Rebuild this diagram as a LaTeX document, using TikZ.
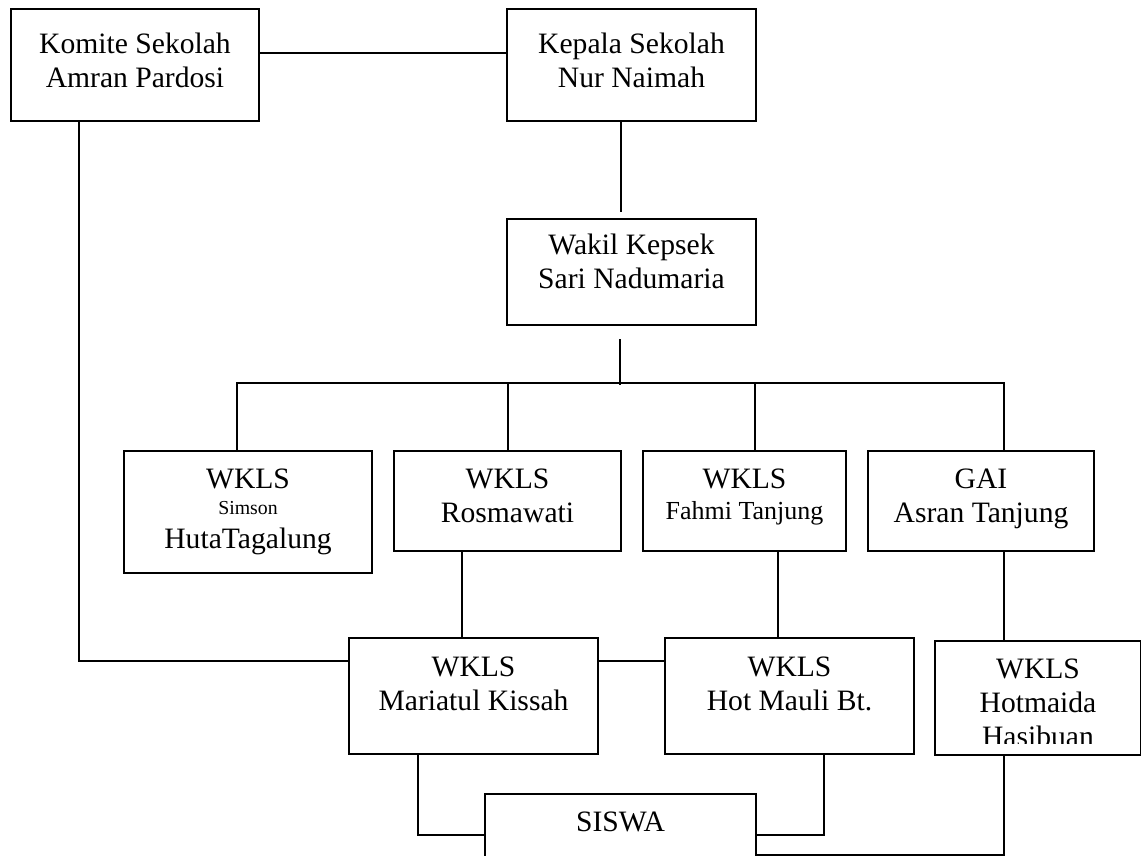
\documentclass[tikz,border=0pt]{standalone}
\usepackage{fontspec}
\setmainfont{Liberation Serif}

\begin{document}
\begin{tikzpicture}[x=0.5pt, y=-0.5pt, line width=1pt,
    box/.style={draw, anchor=north west, align=center, inner xsep=2pt, inner ysep=0pt,
                font=\fontsize{14.8pt}{17pt}\selectfont},
    row/.style={text height=35.5pt, text depth=14.5pt}]
\clip (0,0) rectangle (1141,856);
                    \node [box, minimum width=124pt, text height=39.5pt, text depth=16.5pt] (komite) at (10,8) {Komite Sekolah\\Amran Pardosi};
                    \node [box, minimum width=124.5pt, text height=39.5pt, text depth=16.5pt] (kepala) at (506,8) {Kepala Sekolah\\Nur Naimah};
                    \node [box, minimum width=124.5pt, text height=34.5pt, text depth=18.5pt] (wakil) at (506,218) {Wakil Kepsek\\Sari Nadumaria};
                    \node [box, minimum width=124pt, text height=48.5pt, text depth=12.5pt] (simson) at (123,450) {WKLS\\[-4pt]{\fontsize{9.9pt}{12pt}\selectfont Simson}\\HutaTagalung};
                    \node [box, row, minimum width=113.5pt] (rosma) at (393,450) {WKLS\\Rosmawati};
                    \node [box, minimum width=101.5pt, text height=34pt, text depth=16pt] (fahmi) at (642,450) {WKLS\\[-1.5pt]{\fontsize{13pt}{15pt}\selectfont Fahmi\ Tanjung}};
                    \node [box, row, minimum width=113pt] (gai) at (867,450) {GAI\\Asran Tanjung};
                    \node [box, minimum width=124.5pt, text height=36pt, text depth=22pt] (mariatul) at (348,637) {WKLS\\Mariatul Kissah};
                    \node [box, minimum width=124.5pt, text height=36pt, text depth=22pt] (hotmauli) at (664,637) {WKLS\\Hot Mauli Bt.};
                    \begin{scope}
                        \clip (935,641) rectangle (1139,743);
                        \node [box, draw=none, minimum width=102pt, text height=52pt, text depth=4pt] (hotmaida) at (935,641) {WKLS\\Hotmaida\\Hasibuan};
                    \end{scope}
                    \draw (hotmaida.north west) rectangle (hotmaida.south east);
                    \node [box, minimum width=135.5pt, text height=18.5pt, text depth=35pt] (siswa) at (484,793) {SISWA};
                    % garis
                    \draw ([yshift=6pt]komite.east) -- ([yshift=6pt]kepala.west);
                    \draw ([xshift=-5.25pt]kepala.south) -- ([xshift=-5.25pt,yshift=3pt]wakil.north);
                    \draw ([xshift=-5.75pt,yshift=-6.5pt]wakil.south) -- ++(0,46);
                    \draw ([xshift=-5.5pt]simson.north) -- ++(0,-67) -| ([xshift=11.5pt]gai.north);
                    \draw (rosma.north) -- ++(0,-67);
                    \draw ([xshift=5.25pt]fahmi.north) -- ++(0,-67);
                    \draw ([xshift=-22.75pt]rosma.south) -- ([xshift=-5.75pt]mariatul.north);
                    \draw ([xshift=16.75pt]fahmi.south) -- ([xshift=-5.75pt]hotmauli.north);
                    \draw ([xshift=11.5pt]gai.south) -- ([xshift=-17pt]hotmaida.north);
                    \draw ([xshift=-28pt]komite.south) |- ([yshift=17.5pt]mariatul.west);
                    \draw ([yshift=17.5pt]mariatul.east) -- ([yshift=17.5pt]hotmauli.west);
                    \draw ([xshift=-27.75pt]mariatul.south) |- ([yshift=6.25pt]siswa.west);
                    \draw ([xshift=17.25pt]hotmauli.south) |- ([yshift=6.25pt]siswa.east);
                    \draw ([xshift=-17pt]hotmaida.south) |- ([yshift=-3.75pt]siswa.east);
                \end{tikzpicture}
\end{document}
